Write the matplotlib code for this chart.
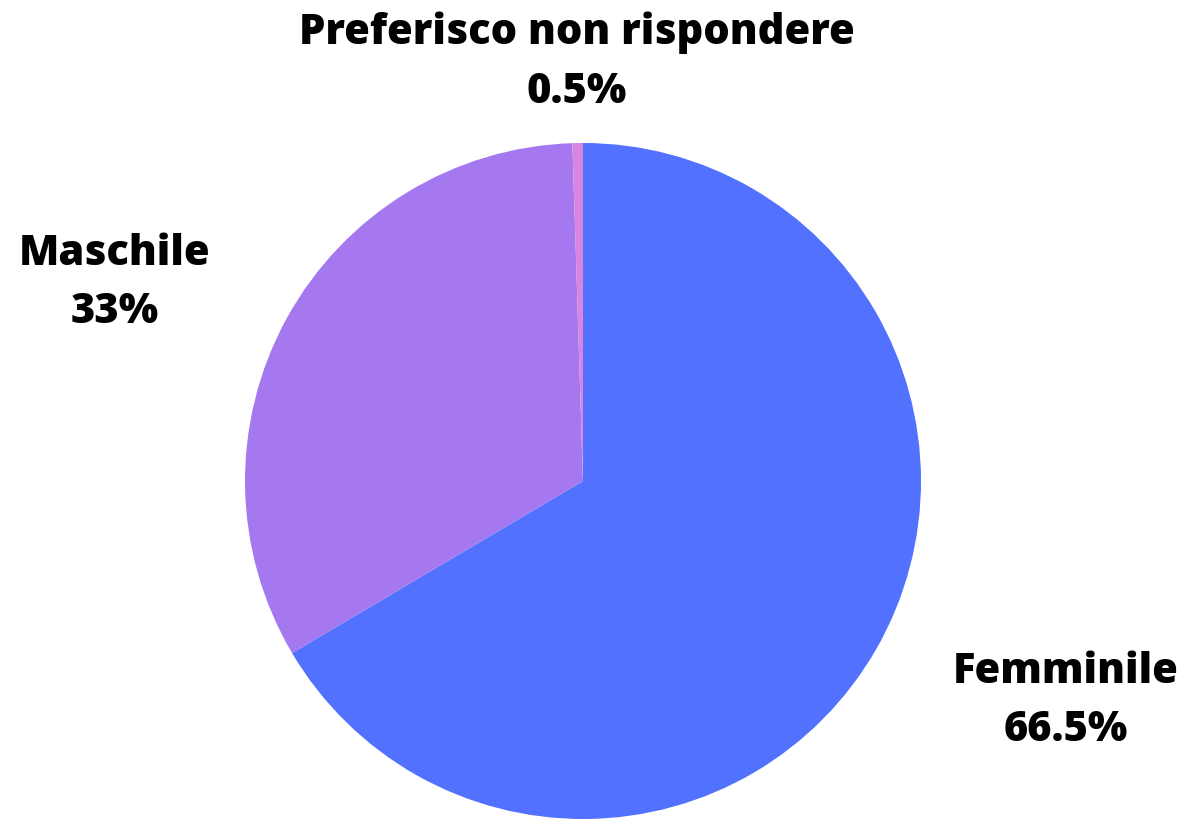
import matplotlib.pyplot as plt

labels = ['Femminile', 'Maschile', 'Preferisco non rispondere']
values = [66.5, 33, 0.5]
pct_text = ['66.5%', '33%', '0.5%']
colors = ['#5271FF', '#A678F0', '#D985E0']

plt.rcParams['font.family'] = ['Open Sans', 'DejaVu Sans']

H = 820
fig = plt.figure(figsize=(11.87, 8.2), dpi=100)
ax = fig.add_axes([0, 0, 1, 1])

ax.pie(values, colors=colors, startangle=90, counterclock=False,
       center=(583, H - 482), radius=338, frame=True,
       wedgeprops={'linewidth': 0})
ax.set_xlim(0, 1187)
ax.set_ylim(0, H)
ax.set_aspect('equal')
ax.axis('off')

# label positions: x centre, baseline of name line, baseline of percent line (px from top)
pos = [(1066, 683, 741), (115, 265, 323), (577, 44, 103)]
for (x, y1, y2), lab, p in zip(pos, labels, pct_text):
    ax.text(x, H - y1, lab, ha='center', va='baseline', fontsize=30,
            fontweight='heavy', color='black')
    ax.text(x, H - y2, p, ha='center', va='baseline', fontsize=30,
            fontweight='heavy', color='black')

fig.savefig('out.png', dpi=100)
